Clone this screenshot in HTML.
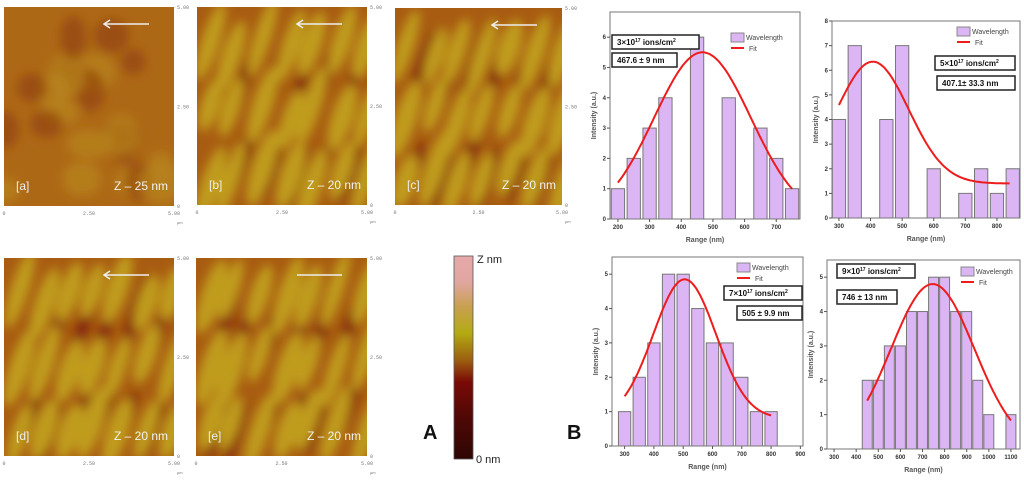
<!DOCTYPE html>
<html><head><meta charset="utf-8">
<style>
html,body{margin:0;padding:0;background:#fff;}
svg{display:block;font-family:"Liberation Sans",sans-serif;}
</style></head>
<body>
<svg id="fig" width="1024" height="487" viewBox="0 0 1024 487" xmlns="http://www.w3.org/2000/svg">
<defs>
<filter id="blur6" x="-20%" y="-20%" width="140%" height="140%"><feGaussianBlur stdDeviation="5"/></filter>
<linearGradient id="cbar" x1="0" y1="0" x2="0" y2="1">
<stop offset="0" stop-color="#e6a9a9"/><stop offset="0.13" stop-color="#e0a6a0"/>
<stop offset="0.25" stop-color="#c9a050"/><stop offset="0.38" stop-color="#b3aa12"/>
<stop offset="0.52" stop-color="#9a5a10"/><stop offset="0.62" stop-color="#7a0a06"/>
<stop offset="0.8" stop-color="#4e0805"/><stop offset="1" stop-color="#2e0604"/>
</linearGradient>
</defs>
<g id="afm"></g>
<g id="charts"></g>
</svg>
<script>
// ---------- Histogram data ----------
const c1Centers=[200,250,300,350,450,550,650,700,750];
const c1Counts=[1,2,3,4,6,4,3,2,1];
const c1Fit=[0,5.5,467,153]; // y0, A, xc, w
const c2Centers=[300,350,450,500,600,700,750,800,850];
const c2Counts=[4,7,4,7,2,1,2,1,2];
const c2Fit=[1.4,4.95,407,114];
const c3Centers=[300,350,400,450,500,550,600,650,700,750,800];
const c3Counts=[1,2,3,5,5,4,3,3,2,1,1];
const c3Fit=[0.8,4.05,505,107];
const c4Centers=[450,500,550,600,650,700,750,800,850,900,950,1000,1100];
const c4Counts=[2,2,3,3,4,4,5,5,4,4,2,1,1];
const c4Fit=[0,4.8,746,189];
const c1XTicks=[200,300,400,500,600,700];
const c2XTicks=[300,400,500,600,700,800];
const c3XTicks=[300,400,500,600,700,800,900];
const c4XTicks=[300,400,500,600,700,800,900,1000,1100];

const NS="http://www.w3.org/2000/svg";
function mk(parent,tag,attrs,text){const e=document.createElementNS(NS,tag);for(const k in attrs)e.setAttribute(k,attrs[k]);if(text!==undefined)e.textContent=text;parent.appendChild(e);return e;}

const charts=document.getElementById('charts');
function drawChart(o){
  const g=mk(charts,'g',{});
  
  
  const sx=v=>o.px0+(v-o.x0)/(o.x1-o.x0)*(o.px1-o.px0);
  const sy=v=>o.py0-(v-0)/(o.ymax)*(o.py0-o.py1);
  const bars=mk(g,'g',{});
  
  
  o.centers.forEach((c,i)=>{
    const r=mk(bars,'rect',{x:sx(c-o.bw/2),y:sy(o.counts[i]),width:sx(c+o.bw/2)-sx(c-o.bw/2),height:sy(0)-sy(o.counts[i]),fill:'#dcb5f5',stroke:'#777','stroke-width':1});
    
    
  });
  const f=o.fit;let d='';
  for(let x=o.fx0;x<=o.fx1;x+=5){const y=f[0]+f[1]*Math.exp(-((x-f[2])**2)/(2*f[3]*f[3]));d+=(d?'L':'M')+sx(x).toFixed(1)+','+sy(y).toFixed(1);}
  const fl=mk(g,'path',{d:d,fill:'none',stroke:'#ee1c1c','stroke-width':2});
  
  
  const fr=mk(g,'rect',{x:o.px0,y:o.py1,width:o.px1-o.px0,height:o.py0-o.py1,fill:'none',stroke:'#777','stroke-width':1});
  
  
  for(let v=0;v<=Math.floor(o.ymax);v++){
    mk(g,'line',{x1:o.px0-3,x2:o.px0,y1:sy(v),y2:sy(v),stroke:'#555'});
    const t=mk(g,'text',{x:o.px0-4,y:sy(v)+2,'font-size':6,'text-anchor':'end',fill:'#333','font-weight':'bold'},v);
    
    
  }
  o.xticks.forEach(v=>{
    mk(g,'line',{x1:sx(v),x2:sx(v),y1:o.py0,y2:o.py0+3,stroke:'#555'});
    const t=mk(g,'text',{x:sx(v),y:o.py0+10,'font-size':6,'text-anchor':'middle',fill:'#333','font-weight':'bold'},v);
    
    
  });
  const yt=mk(g,'text',{x:0,y:0,'font-size':7,'font-weight':'bold',fill:'#555','text-anchor':'middle',transform:`translate(${o.px0-14},${(o.py0+o.py1)/2}) rotate(-90)`},'Intensity (a.u.)');
  
  
  const xt=mk(g,'text',{x:(o.px0+o.px1)/2,y:o.py0+23,'font-size':7,'font-weight':'bold',fill:'#555','text-anchor':'middle'},'Range (nm)');
  
  
  const lg=mk(g,'g',{});
  
  
  mk(lg,'rect',{x:o.lx,y:o.ly,width:13,height:9,fill:'#dcb5f5',stroke:'#888'});
  mk(lg,'text',{x:o.lx+15,y:o.ly+7,'font-size':7,fill:'#444'},'Wavelength');
  mk(lg,'line',{x1:o.lx,x2:o.lx+13,y1:o.ly+15,y2:o.ly+15,stroke:'#ee1c1c','stroke-width':2});
  mk(lg,'text',{x:o.lx+18,y:o.ly+18,'font-size':7,fill:'#444'},'Fit');
  o.boxes.forEach(b=>{
    const bg=mk(g,'g',{});
    
    
    mk(bg,'rect',{x:b.x,y:b.y,width:b.w,height:14,fill:'#fff',stroke:'#222','stroke-width':1.5});
    const t=mk(bg,'text',{x:b.x+5,y:b.y+10,'font-size':8,'font-weight':'bold',fill:'#111'});
    if(b.dose){t.appendChild(document.createTextNode(b.dose+'×10'));
      mk(t,'tspan',{'font-size':5,dy:-3},'17');
      mk(t,'tspan',{dy:3},' ions/cm');
      mk(t,'tspan',{'font-size':5,dy:-3},'2');}
    else t.textContent=b.t;
  });
}
drawChart({name:'histogram-3e17',centers:c1Centers,counts:c1Counts,fit:c1Fit,xticks:c1XTicks,bw:42,
  x0:175,x1:775,px0:610,px1:800,py0:219,py1:12,ymax:6.83,fx0:200,fx1:750,lx:731,ly:33,
  boxes:[{n:'dose-label',x:612,y:35,w:87,dose:'3'},{n:'wavelength-label',x:612,y:53,w:65,t:'467.6 ± 9 nm'}]});
drawChart({name:'histogram-5e17',centers:c2Centers,counts:c2Counts,fit:c2Fit,xticks:c2XTicks,bw:42,
  x0:278,x1:873,px0:832,px1:1020,py0:218,py1:21,ymax:8,fx0:300,fx1:840,lx:957,ly:27,
  boxes:[{n:'dose-label',x:935,y:56,w:80,dose:'5'},{n:'wavelength-label',x:937,y:76,w:78,t:'407.1± 33.3 nm'}]});
drawChart({name:'histogram-7e17',centers:c3Centers,counts:c3Counts,fit:c3Fit,xticks:c3XTicks,bw:42,
  x0:257,x1:909,px0:612,px1:803,py0:446,py1:257,ymax:5.5,fx0:300,fx1:800,lx:737,ly:263,
  boxes:[{n:'dose-label',x:724,y:286,w:78,dose:'7'},{n:'wavelength-label',x:737,y:306,w:65,t:'505 ± 9.9 nm'}]});
drawChart({name:'histogram-9e17',centers:c4Centers,counts:c4Counts,fit:c4Fit,xticks:c4XTicks,bw:45,
  x0:268,x1:1141,px0:827,px1:1020,py0:449,py1:260,ymax:5.5,fx0:450,fx1:1100,lx:961,ly:267,
  boxes:[{n:'dose-label',x:837,y:264,w:78,dose:'9'},{n:'wavelength-label',x:837,y:290,w:60,t:'746 ± 13 nm'}]});

// ---------- AFM images (decorative textures) ----------
const afm=document.getElementById('afm');
let seed=7;function rnd(){seed=(seed*16807)%2147483647;return seed/2147483647;}
const imgs=[
 {id:'a',x:4,y:7,w:170,h:199,z:'Z – 25 nm',stripes:false},
 {id:'b',x:197,y:7,w:170,h:198,z:'Z – 20 nm',stripes:true},
 {id:'c',x:395,y:8,w:167,h:197,z:'Z – 20 nm',stripes:true},
 {id:'d',x:4,y:258,w:170,h:198,z:'Z – 20 nm',stripes:true},
 {id:'e',x:196,y:258,w:171,h:198,z:'Z – 20 nm',stripes:true}];
imgs.forEach((im,k)=>{
  const g=mk(afm,'g',{});
  
  
  const cpe=mk(g,'clipPath',{id:'clip'+k});
  mk(cpe,'rect',{x:im.x,y:im.y,width:im.w,height:im.h});
  const inner=mk(g,'g',{'clip-path':`url(#clip${k})`});
  mk(inner,'rect',{x:im.x,y:im.y,width:im.w,height:im.h,fill:im.stripes?'#a85c12':'#ad6816'});
  const tex=mk(inner,'g',{filter:'url(#blur6)'});
  if(im.stripes){
    for(let i=0;i<7;i++){
      const cx=im.x+8+i*26+rnd()*8;
      const dx=cx+13;
      mk(tex,'ellipse',{cx:dx,cy:im.y+50+rnd()*40,rx:6,ry:38,fill:'#852808',transform:`rotate(18 ${dx} ${im.y+70})`});
      mk(tex,'ellipse',{cx:dx,cy:im.y+140+rnd()*40,rx:6,ry:34,fill:'#852808',transform:`rotate(18 ${dx} ${im.y+150})`});
      for(let j=0;j<3;j++){
        const cy=im.y+30+j*65+rnd()*20;
        mk(tex,'ellipse',{cx:cx,cy:cy,rx:8+rnd()*3,ry:28+rnd()*14,fill:'#c09c1c',transform:`rotate(18 ${cx} ${cy})`});
      }
    }
  } else {
    for(let i=0;i<22;i++){
      mk(tex,'ellipse',{cx:im.x+rnd()*im.w,cy:im.y+rnd()*im.h,rx:12+rnd()*12,ry:10+rnd()*12,fill:rnd()>0.5?'#b8851c':'#93440e',opacity:0.7});
    }
  }
  const ax=im.x+im.w-25,ay=im.y+17;
  mk(g,'line',{x1:ax-45,x2:ax,y1:ay,y2:ay,stroke:'#eee','stroke-width':1.5});
  if(im.id!=='e') mk(g,'path',{d:`M${ax-39},${ay-4}L${ax-45},${ay}L${ax-39},${ay+4}`,fill:'none',stroke:'#eee','stroke-width':1.5});
  const lb=mk(g,'text',{x:im.x+12,y:im.y+im.h-16,'font-size':12,fill:'#eee'},'['+im.id+']');
  
  
  const zl=mk(g,'text',{x:im.x+im.w-6,y:im.y+im.h-16,'font-size':12,fill:'#f2f2f2','text-anchor':'end'},im.z);
  
  
  [['5.00',im.y+2],['2.50',im.y+im.h/2+2],['0',im.y+im.h+2]].forEach(t=>mk(g,'text',{x:im.x+im.w+3,y:t[1],'font-size':5,fill:'#777','font-family':'Liberation Mono'},t[0]));
  [['0',im.x],['2.50',im.x+im.w/2],['5.00',im.x+im.w]].forEach(t=>mk(g,'text',{x:t[1],y:im.y+im.h+9,'font-size':5,fill:'#777','text-anchor':'middle','font-family':'Liberation Mono'},t[0]));
  mk(g,'text',{x:im.x+im.w+3,y:im.y+im.h+18,'font-size':4,fill:'#777'},'µm');
});
const cb=mk(afm,'g',{});


mk(cb,'rect',{x:454,y:256,width:19,height:203,fill:'url(#cbar)',stroke:'#555','stroke-width':0.8});
mk(cb,'text',{x:477,y:263,'font-size':11,fill:'#222'},'Z nm');
mk(cb,'text',{x:476,y:463,'font-size':11,fill:'#222'},'0 nm');
const pa=mk(afm,'text',{x:423,y:439,'font-size':20,'font-weight':'bold',fill:'#111'},'A');


const pb=mk(afm,'text',{x:567,y:439,'font-size':20,'font-weight':'bold',fill:'#111'},'B');


</script>
</body></html>
